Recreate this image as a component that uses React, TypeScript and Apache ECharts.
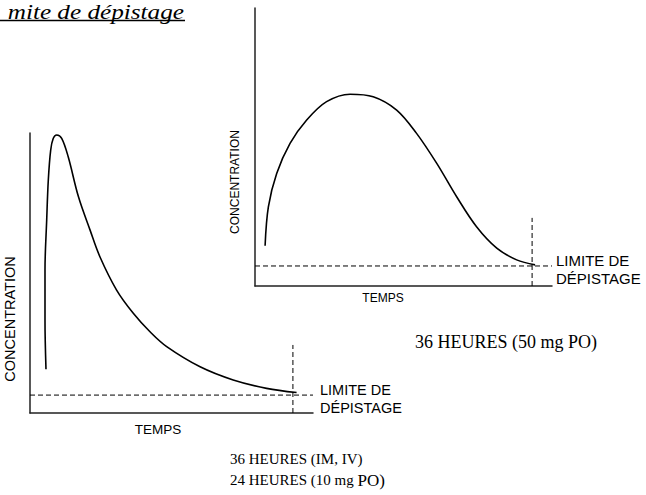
import React, { useEffect, useRef } from "react";
import * as echarts from "echarts";

// Right panel (50 mg PO): time (0-100) vs concentration (0-100)
const rightX = [3.4, 4.5, 7.3, 11.8, 17.4, 24.1, 32.0, 39.8, 47.7, 54.4, 61.2, 67.9, 74.6, 81.4, 88.1, 94.3];
const rightY = [14.5, 28.5, 40.5, 51.3, 59.7, 66.3, 69.0, 68.1, 63.3, 54.9, 44.1, 32.1, 21.3, 13.6, 9.4, 7.6];
const rightLimit = 7.2;
const rightCut = 93.3;
const rightCutTop = 24.5;

// Left panel (IM, IV / 10 mg PO)
const leftX = [5.65, 5.3, 5.3, 5.9, 6.47, 7.31, 8.23, 9.43, 11.2, 13.5, 17.1, 21.2, 24.7, 30.6, 36.5, 42.4, 48.3, 60.1, 71.8, 83.6, 94.2];
const leftY = [15.6, 33.2, 51.1, 68.9, 83.2, 93.9, 98.1, 99.3, 98.1, 91.5, 77.3, 65.4, 55.8, 43.9, 35.6, 29.0, 23.7, 16.5, 11.8, 8.8, 7.3];
const leftLimit = 6.4;
const leftCut = 92.9;
const leftCutTop = 24.3;

const titleText = "mite de dépistage";
const yName = "CONCENTRATION";
const xName = "TEMPS";
const limitLines = ["LIMITE DE", "DÉPISTAGE"];
const rightCaption = "36 HEURES (50 mg PO)";
const leftCaption1 = "36 HEURES (IM, IV)";
const leftCaption2a = "24 HEURES (10 mg ";
const leftCaption2b = "PO)";

const SANS = "'Liberation Sans', Arial, sans-serif";
const SERIF = "'Liberation Serif', 'Times New Roman', serif";

export default function App() {
  const ref = useRef<HTMLDivElement>(null);
  useEffect(() => {
    document.body.style.margin = "0";
    const chart = echarts.init(ref.current!, null, { renderer: "svg" });
    const axisCommon = {
      type: "value" as const,
      min: 0,
      max: 100,
      axisLine: { show: true, lineStyle: { color: "#222", width: 1.5 } },
      axisTick: { show: false },
      axisLabel: { show: false },
      splitLine: { show: false },
    };
    const curveStyle = { color: "#000", width: 1.6 };
    const dashStyle = { color: "#000", width: 1, type: [5, 3] as number[] };
    const zip = (xs: number[], ys: number[]) => xs.map((x, i) => [x, ys[i]]);
    const option: any = {
      animation: false,
      backgroundColor: "#fff",
      grid: [
        { left: 255, top: 8, width: 297, height: 278 },
        { left: 30, top: 133, width: 283, height: 280 },
      ],
      xAxis: [
        { ...axisCommon, gridIndex: 0 },
        { ...axisCommon, gridIndex: 1 },
      ],
      yAxis: [
        { ...axisCommon, gridIndex: 0 },
        { ...axisCommon, gridIndex: 1 },
      ],
      series: [
        { type: "line", xAxisIndex: 0, yAxisIndex: 0, data: zip(rightX, rightY), smooth: 0.35, showSymbol: false, lineStyle: curveStyle },
        { type: "line", xAxisIndex: 0, yAxisIndex: 0, data: [[0, rightLimit], [100, rightLimit]], showSymbol: false, lineStyle: dashStyle },
        { type: "line", xAxisIndex: 0, yAxisIndex: 0, data: [[rightCut, 0], [rightCut, rightCutTop]], showSymbol: false, lineStyle: dashStyle },
        { type: "line", xAxisIndex: 1, yAxisIndex: 1, data: zip(leftX, leftY), smooth: 0.35, showSymbol: false, lineStyle: curveStyle },
        { type: "line", xAxisIndex: 1, yAxisIndex: 1, data: [[0, leftLimit], [100, leftLimit]], showSymbol: false, lineStyle: dashStyle },
        { type: "line", xAxisIndex: 1, yAxisIndex: 1, data: [[leftCut, 0], [leftCut, leftCutTop]], showSymbol: false, lineStyle: dashStyle },
      ],
      graphic: [
        { type: "text", x: 184, y: 11.5, scaleX: 1.2, style: { text: titleText, font: `italic 21px ${SERIF}`, fill: "#000", align: "right", verticalAlign: "middle" } },
        { type: "line", shape: { x1: 0, y1: 20.5, x2: 185, y2: 20.5 }, style: { stroke: "#000", lineWidth: 1.5 } },
        { type: "text", x: 10, y: 319, rotation: Math.PI / 2, style: { text: yName, font: `14.5px ${SANS}`, fill: "#000", align: "center", verticalAlign: "middle" } },
        { type: "text", x: 235, y: 182, rotation: Math.PI / 2, style: { text: yName, font: `12px ${SANS}`, fill: "#000", align: "center", verticalAlign: "middle" } },
        { type: "text", x: 158, y: 429, style: { text: xName, font: `13.5px ${SANS}`, fill: "#000", align: "center", verticalAlign: "middle" } },
        { type: "text", x: 383, y: 298, style: { text: xName, font: `12px ${SANS}`, fill: "#000", align: "center", verticalAlign: "middle" } },
        { type: "text", x: 320, y: 390, style: { text: limitLines[0], font: `14.5px ${SANS}`, fill: "#000", align: "left", verticalAlign: "middle" } },
        { type: "text", x: 320, y: 408, style: { text: limitLines[1], font: `14.5px ${SANS}`, fill: "#000", align: "left", verticalAlign: "middle" } },
        { type: "text", x: 556, y: 260, style: { text: limitLines[0], font: `15px ${SANS}`, fill: "#000", align: "left", verticalAlign: "middle" } },
        { type: "text", x: 556, y: 278, style: { text: limitLines[1], font: `15px ${SANS}`, fill: "#000", align: "left", verticalAlign: "middle" } },
        { type: "text", x: 415, y: 342, style: { text: rightCaption, font: `18px ${SERIF}`, fill: "#000", align: "left", verticalAlign: "middle" } },
        { type: "text", x: 230, y: 459, style: { text: leftCaption1, font: `15px ${SERIF}`, fill: "#000", align: "left", verticalAlign: "middle" } },
        {
          type: "text", x: 230, y: 480,
          style: {
            text: `{a|${leftCaption2a}}{b|${leftCaption2b}}`,
            fill: "#000", align: "left", verticalAlign: "middle",
            rich: { a: { font: `15px ${SERIF}`, fill: "#000" }, b: { font: `17px ${SERIF}`, fill: "#000" } },
          },
        },
      ],
    };
    chart.setOption(option);
    return () => chart.dispose();
  }, []);
  return <div ref={ref} style={{ width: 646, height: 495 }} />;
}
